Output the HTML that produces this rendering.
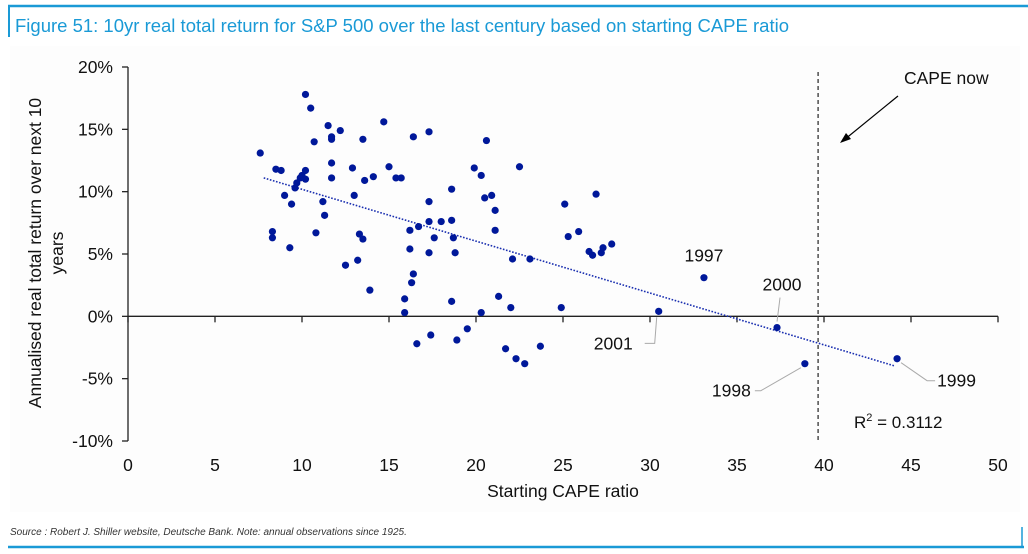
<!DOCTYPE html>
<html><head><meta charset="utf-8"><style>
body{margin:0;background:#fff;}
svg{display:block;font-family:"Liberation Sans",Arial,sans-serif;}
</style></head><body>
<svg id="chart" width="1028" height="554" viewBox="0 0 1028 554">
<rect x="0" y="0" width="1028" height="554" fill="#fff"/>
<rect x="10" y="46" width="1010" height="466" fill="#fdfdfd"/>
<line x1="8" y1="6" x2="1028" y2="6" stroke="#1a9ad6" stroke-width="2.5"/>
<line x1="9" y1="6" x2="9" y2="37" stroke="#1a9ad6" stroke-width="2"/>
<text x="15" y="32" font-size="18.5" fill="#1a9ad6">Figure 51: 10yr real total return for S&amp;P 500 over the last century based on starting CAPE ratio</text>
<line x1="8" y1="547" x2="1024" y2="547" stroke="#1a9ad6" stroke-width="2.5"/>
<line x1="1022" y1="527" x2="1022" y2="547" stroke="#1a9ad6" stroke-width="1.5"/>
<text x="10" y="535" font-size="10" font-style="italic" fill="#333">Source : Robert J. Shiller website, Deutsche Bank. Note: annual observations since 1925.</text>
<g id="axes"></g>
<g id="marks"></g>
<text transform="translate(41,253) rotate(-90)" text-anchor="middle" font-size="17.5" fill="#111">Annualised real total return over next 10</text>
<text transform="translate(63,253) rotate(-90)" text-anchor="middle" font-size="17.5" fill="#111">years</text>
<text x="563" y="497" text-anchor="middle" font-size="17.5" fill="#111">Starting CAPE ratio</text>
<text x="904" y="84" font-size="17.5" fill="#111">CAPE now</text>
<line x1="898" y1="96" x2="844" y2="140" stroke="#000" stroke-width="1.2"/>
<polygon points="840,143 846,133 851,139" fill="#000"/>
<text x="854" y="428" font-size="17" fill="#111">R<tspan font-size="11" dy="-7">2</tspan><tspan dy="7"> = 0.3112</tspan></text>
</svg>
<script>
const xTicks=[0,5,10,15,20,25,30,35,40,45,50];
const yTicks=[-10,-5,0,5,10,15,20];
const cape=[7.6,8.5,8.8,8.3,8.3,9.3,9.0,9.4,9.6,9.7,9.9,10.0,10.2,10.2,10.2,10.5,10.7,10.8,11.2,11.3,11.5,11.7,11.7,11.7,11.7,12.2,12.5,12.9,13.0,13.2,13.3,13.5,13.5,13.6,13.9,14.1,14.7,15.0,15.4,15.7,16.2,15.9,15.9,16.4,16.2,16.3,16.4,16.6,16.7,17.4,17.3,17.3,17.3,17.3,17.6,18.0,18.6,18.6,18.6,18.7,18.8,18.9,19.5,19.9,20.3,20.3,20.5,20.6,20.9,21.1,21.1,21.3,21.7,22.0,22.1,22.3,22.5,22.8,23.1,23.7,24.9,25.1,25.3,25.9,26.5,26.7,26.9,27.2,27.3,27.8,30.5,33.1,37.3,38.9,44.2];
const ret=[13.1,11.8,11.7,6.8,6.3,5.5,9.7,9.0,10.3,10.7,11.1,11.3,11.0,11.7,17.8,16.7,14.0,6.7,9.2,8.1,15.3,14.2,14.4,12.3,11.1,14.9,4.1,11.9,9.7,4.5,6.6,6.2,14.2,10.9,2.1,11.2,15.6,12.0,11.1,11.1,6.9,1.4,0.3,14.4,5.4,2.7,3.4,-2.2,7.2,-1.5,9.2,7.6,14.8,5.1,6.3,7.6,10.2,7.7,1.2,6.3,5.1,-1.9,-1.0,11.9,11.3,0.3,9.5,14.1,9.7,6.9,8.5,1.6,-2.6,0.7,4.6,-3.4,12.0,-3.8,4.6,-2.4,0.7,9.0,6.4,6.8,5.2,4.9,9.8,5.1,5.5,5.8,0.4,3.1,-0.9,-3.8,-3.4];
const trendCoef=[14.35,-0.416];
const trendRange=[7.8,44.1];
const capeNow=[39.66];
const labels=["1997","2000","2001","1998","1999"];
const labelCape=[33.1,37.3,30.5,38.9,44.2];
const labelRet=[3.1,-0.9,0.4,-3.8,-3.4];

const X0=128,X1=998,Y0=441,Y1=67;
const sx=v=>X0+(v-0)/(50-0)*(X1-X0);
const sy=v=>Y0-(v-(-10))/(20-(-10))*(Y0-Y1);
const NS="http://www.w3.org/2000/svg";
function mk(tag,parent,attrs){const e=document.createElementNS(NS,tag);for(const k in attrs)e.setAttribute(k,attrs[k]);parent.appendChild(e);return e;}
const ax=document.getElementById('axes'),mg=document.getElementById('marks');

const yAxis=mk('line',ax,{x1:X0,y1:Y1,x2:X0,y2:Y0,stroke:'#222','stroke-width':1.3});


yTicks.forEach(t=>{
  mk('line',ax,{x1:X0-6,y1:sy(t),x2:X0,y2:sy(t),stroke:'#222','stroke-width':1.3});
  const tx=mk('text',ax,{x:X0-15,y:sy(t)+6,'text-anchor':'end','font-size':17.5,fill:'#111'});
  tx.textContent=t+'%';
  
  
});
const xAxis=mk('line',ax,{x1:X0,y1:sy(0),x2:X1,y2:sy(0),stroke:'#222','stroke-width':1.3});


xTicks.forEach(t=>{
  mk('line',ax,{x1:sx(t),y1:sy(0),x2:sx(t),y2:sy(0)+6,stroke:'#222','stroke-width':1.3});
  const tx=mk('text',ax,{x:sx(t),y:471,'text-anchor':'middle','font-size':17.5,fill:'#111'});
  tx.textContent=t;
  
  
});

const vl=mk('line',mg,{x1:sx(capeNow[0]),y1:72,x2:sx(capeNow[0]),y2:Y0,stroke:'#222','stroke-width':1.2,'stroke-dasharray':'4,3'});



const tl=mk('line',mg,{x1:sx(trendRange[0]),y1:sy(trendCoef[0]+trendCoef[1]*trendRange[0]),x2:sx(trendRange[1]),y2:sy(trendCoef[0]+trendCoef[1]*trendRange[1]),stroke:'#1a2fb0','stroke-width':1.6,'stroke-dasharray':'1.6,1.6'});



cape.forEach((c,i)=>{
  const p=mk('circle',mg,{cx:sx(c),cy:sy(ret[i]),r:3.6,fill:'#00189a'});
  
  
});

const offs=[[0,-16,'middle',null],[5,-37,'middle',[0,-6,3,-30]],[-26,38,'end',[-2,6,-4,32,-14,32]],[-54,33,'end',[-4,4,-44,27,-50,27]],[40,28,'start',[4,4,30,22,38,22]]];
labels.forEach((l,i)=>{
  const px=sx(labelCape[i]),py=sy(labelRet[i]);const o=offs[i];
  if(o[3]){const pts=[];for(let k=0;k<o[3].length;k+=2)pts.push((px+o[3][k])+','+(py+o[3][k+1]));
    mk('polyline',mg,{points:pts.join(' '),fill:'none',stroke:'#aaa','stroke-width':1});}
  const t=mk('text',mg,{x:px+o[0],y:py+o[1],'text-anchor':o[2],'font-size':17.5,fill:'#111'});
  t.textContent=l;
  
  
});
</script>
</body></html>
